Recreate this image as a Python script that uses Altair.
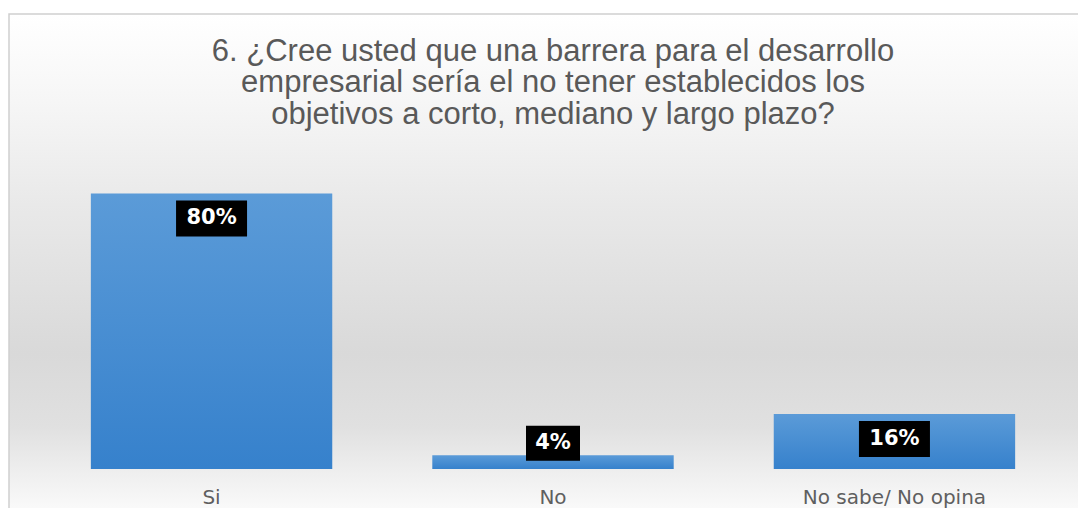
import altair as alt
import pandas as pd

categories = ["Si", "No", "No sabe/ No opina"]
values = [80, 4, 16]
labels = ["80%", "4%", "16%"]

title_lines = [
    "6. ¿Cree usted que una barrera para el desarrollo",
    "empresarial sería el no tener establecidos los",
    "objetivos a corto, mediano y largo plazo?",
]

df = pd.DataFrame({"cat": categories, "val": values, "lab": labels})

W, H = 1024, 310
PAD_L, PAD_T = 33, 151

xenc = alt.X(
    "cat:N", sort=None,
    scale=alt.Scale(paddingInner=0.293, paddingOuter=0.146),
    axis=alt.Axis(title=None, domain=False, ticks=False, labelAngle=0,
                  labelPadding=18, labelFont="DejaVu Sans", labelFontSize=20,
                  labelColor="#5f5f5f", labelLimit=0, zindex=2),
)
yenc = alt.Y("val:Q", scale=alt.Scale(domain=[0, 90]), axis=None)

bg_grad = alt.LinearGradient(
    gradient="linear", x1=0, x2=0, y1=0, y2=1,
    stops=[
        alt.GradientStop(offset=0.0, color="#ffffff"),
        alt.GradientStop(offset=0.17, color="#f6f6f6"),
        alt.GradientStop(offset=0.37, color="#e9e9e9"),
        alt.GradientStop(offset=0.66, color="#d9d9d9"),
        alt.GradientStop(offset=0.80, color="#e0e0e0"),
        alt.GradientStop(offset=0.90, color="#f0f0f0"),
        alt.GradientStop(offset=0.97, color="#fbfbfb"),
        alt.GradientStop(offset=1.0, color="#ffffff"),
    ],
)

background = alt.Chart(pd.DataFrame({"a": [0]})).mark_rect(
    color=bg_grad, stroke="#cfcfcf", strokeWidth=1.5, clip=False
).encode(
    x=alt.value(-32), x2=alt.value(1060),
    y=alt.value(-145), y2=alt.value(370),
)

bar_grad = alt.LinearGradient(
    gradient="linear", x1=0, x2=0, y1=0, y2=1,
    stops=[
        alt.GradientStop(offset=0.0, color="#5b9bd8"),
        alt.GradientStop(offset=1.0, color="#3681cc"),
    ],
)

base = alt.Chart(df)

bars = base.mark_bar(color=bar_grad).encode(x=xenc, y=yenc)

big = base.transform_filter("datum.val >= 10")
small = base.transform_filter("datum.val < 10")

box_big = big.mark_point(
    shape="M-1,0.197L1,0.197L1,1.211L-1,1.211Z", size=5041,
    filled=True, opacity=1, color="#000000", strokeWidth=0,
).encode(x=xenc, y=yenc)

box_small = small.mark_point(
    shape="M-1,-1.093L1,-1.093L1,0.204L-1,0.204Z", size=2916,
    filled=True, opacity=1, color="#000000", strokeWidth=0,
).encode(x=xenc, y=yenc)

txt_big = big.mark_text(
    dy=25, baseline="middle", font="DejaVu Sans", fontWeight="bold",
    fontSize=21, color="#ffffff",
).encode(x=xenc, y=yenc, text="lab:N")

txt_small = small.mark_text(
    dy=-12, baseline="middle", font="DejaVu Sans", fontWeight="bold",
    fontSize=21, color="#ffffff",
).encode(x=xenc, y=yenc, text="lab:N")

chart = alt.layer(
    background, bars, box_big, box_small, txt_big, txt_small
).properties(
    width=W, height=H,
    title=alt.TitleParams(
        text=title_lines, anchor="middle", frame="group",
        font="Liberation Sans",
        fontSize=31, fontWeight="normal", color="#595959",
        lineHeight=31.5, offset=0, dy=117.5, zindex=2,
    ),
    autosize=alt.AutoSizeParams(type="none"),
    padding={"left": PAD_L, "top": PAD_T, "right": 13, "bottom": 39},
).configure_view(stroke=None)

chart.save("out.html", embed_options={"renderer": "svg", "actions": False})
